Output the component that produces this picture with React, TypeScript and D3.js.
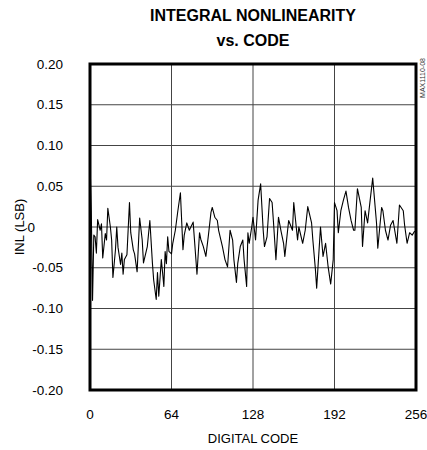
import { useMemo } from 'react';
import * as d3 from 'd3';

// digital code / INL (LSB)
const codes = [
  0, 1, 2, 3, 4, 5, 6, 8, 9, 10, 12, 13, 14, 16, 17, 18, 20, 21, 22, 24, 25, 26, 27, 29,
  31, 32, 34, 35, 37, 39, 41, 42, 45, 47, 49, 50, 52, 53, 54, 56, 57, 58, 59, 60, 61, 62,
  64, 65, 67, 69, 71, 73, 74, 76, 78, 81, 82, 84, 86, 87, 89, 91, 93, 95, 96, 98, 100, 101,
  104, 106, 108, 110, 112, 113, 115, 116, 118, 120, 121, 123, 124, 125, 127, 128, 130, 132,
  134, 136, 137, 139, 141, 143, 144, 146, 148, 150, 152, 153, 156, 159, 160, 163, 164, 167,
  169, 171, 174, 175, 177, 178, 181, 183, 185, 187, 189, 191, 192, 194, 195, 197, 199, 201,
  203, 205, 207, 208, 210, 213, 214, 216, 218, 220, 222, 225, 226, 229, 230, 232, 234, 236,
  238, 241, 243, 246, 247, 249, 251, 253, 255,
];
const inl = [
  0.083, 0.02, -0.09, -0.01, -0.012, -0.032, 0.009, -0.004, 0.004, -0.038, -0.008, -0.016,
  0.023, 0.0, -0.016, -0.062, -0.028, 0.0, -0.025, -0.046, -0.032, -0.058, -0.04, -0.034,
  0.03, -0.007, -0.028, -0.033, -0.055, 0.011, -0.016, -0.044, -0.024, 0.008, -0.044, -0.065,
  -0.089, -0.056, -0.085, -0.04, -0.056, -0.073, -0.03, -0.045, -0.012, -0.03,
  -0.033, -0.02, -0.004, 0.02, 0.042, -0.028, -0.01, 0.005, -0.004, 0.006, -0.015, -0.058,
  -0.007, -0.015, -0.024, -0.036, -0.01, 0.018, 0.024, 0.012, 0.008, -0.004,
  -0.024, -0.04, -0.049, -0.004, -0.016, -0.04, -0.068, -0.045, -0.024, -0.016, -0.04, -0.073,
  -0.007, -0.02, 0.0, 0.012, -0.016, 0.033,
  0.053, -0.004, -0.024, -0.012, 0.035, 0.03, 0.008, -0.04, 0.012, -0.005, -0.02, -0.036,
  0.008, -0.004, 0.03, -0.016, 0.0, -0.02,
  -0.004, 0.025, 0.005, -0.016, -0.052, -0.075, 0.0, -0.036, -0.02, -0.049, -0.07, -0.04,
  0.03, 0.02, -0.007, 0.02, 0.033, 0.044,
  0.024, 0.008, -0.004, -0.004, 0.047, 0.024, -0.024, 0.02, 0.005, 0.033, 0.06, 0.005,
  -0.026, 0.024, 0.02, -0.004, -0.016, 0.002,
  0.008, -0.02, 0.027, 0.02, 0.003, -0.02, -0.007, -0.01, -0.005,
];
const xTicks = [0, 64, 128, 192, 256];
const yTicks = [0.2, 0.15, 0.1, 0.05, 0, -0.05, -0.1, -0.15, -0.2];
const yTickLabels = ['0.20', '0.15', '0.10', '0.05', '0', '-0.05', '-0.10', '-0.15', '-0.20'];

const WIDTH = 427;
const HEIGHT = 450;
const FONT = '"Liberation Sans", Arial, Helvetica, sans-serif';

export default function App() {
  const margin = { top: 64, right: 11, bottom: 60, left: 90 };
  const innerWidth = WIDTH - margin.left - margin.right;
  const innerHeight = HEIGHT - margin.top - margin.bottom;

  const x = d3.scaleLinear().domain([0, 256]).range([0, innerWidth]);
  const y = d3.scaleLinear().domain([-0.2, 0.2]).range([innerHeight, 0]);

  const linePath = useMemo(() => {
    const pts = codes.map((c, i) => [c, inl[i]] as [number, number]);
    return d3
      .line<[number, number]>()
      .x((d) => x(d[0]))
      .y((d) => y(d[1]))(pts);
  }, []);

  return (
    <svg
      width={WIDTH}
      height={HEIGHT}
      style={{ position: 'absolute', left: 0, top: 0, background: '#fff' }}
      fontFamily={FONT}
    >
      {/* title */}
      <text x={margin.left + innerWidth / 2} y={21} textAnchor="middle" fontSize={16} fontWeight="bold">
        INTEGRAL NONLINEARITY
      </text>
      <text x={margin.left + innerWidth / 2} y={46} textAnchor="middle" fontSize={16} fontWeight="bold">
        vs. CODE
      </text>

      <g transform={`translate(${margin.left},${margin.top})`}>
        {/* grid */}
        {yTicks.slice(1, -1).map((t) => (
          <line key={`h${t}`} x1={0} x2={innerWidth} y1={y(t)} y2={y(t)} stroke="#444" strokeWidth={1} />
        ))}
        {xTicks.slice(1, -1).map((t) => (
          <line key={`v${t}`} x1={x(t)} x2={x(t)} y1={0} y2={innerHeight} stroke="#444" strokeWidth={1} />
        ))}

        {/* data */}
        <path d={linePath ?? ''} fill="none" stroke="#000" strokeWidth={1.1} strokeLinejoin="round" />

        {/* frame */}
        <rect x={0} y={0} width={innerWidth} height={innerHeight} fill="none" stroke="#000" strokeWidth={3} />

        {/* y tick labels */}
        {yTicks.map((t, i) => (
          <text
            key={`yl${t}`}
            x={t === 0 ? -55 : -27}
            y={y(t)}
            dy="0.35em"
            textAnchor="end"
            fontSize={13.5}
          >
            {yTickLabels[i]}
          </text>
        ))}

        {/* x tick labels */}
        {xTicks.map((t) => (
          <text key={`xl${t}`} x={x(t)} y={innerHeight + 29} textAnchor="middle" fontSize={13.5}>
            {t}
          </text>
        ))}
      </g>

      {/* axis titles */}
      <text x={margin.left + innerWidth / 2} y={443} textAnchor="middle" fontSize={13}>
        DIGITAL CODE
      </text>
      <text
        transform={`translate(24,${margin.top + innerHeight / 2}) rotate(-90)`}
        textAnchor="middle"
        fontSize={13}
      >
        INL (LSB)
      </text>

      {/* figure id */}
      <text transform="translate(425,78) rotate(-90)" textAnchor="middle" fontSize={7} fill="#333">
        MAX1110-08
      </text>
    </svg>
  );
}
